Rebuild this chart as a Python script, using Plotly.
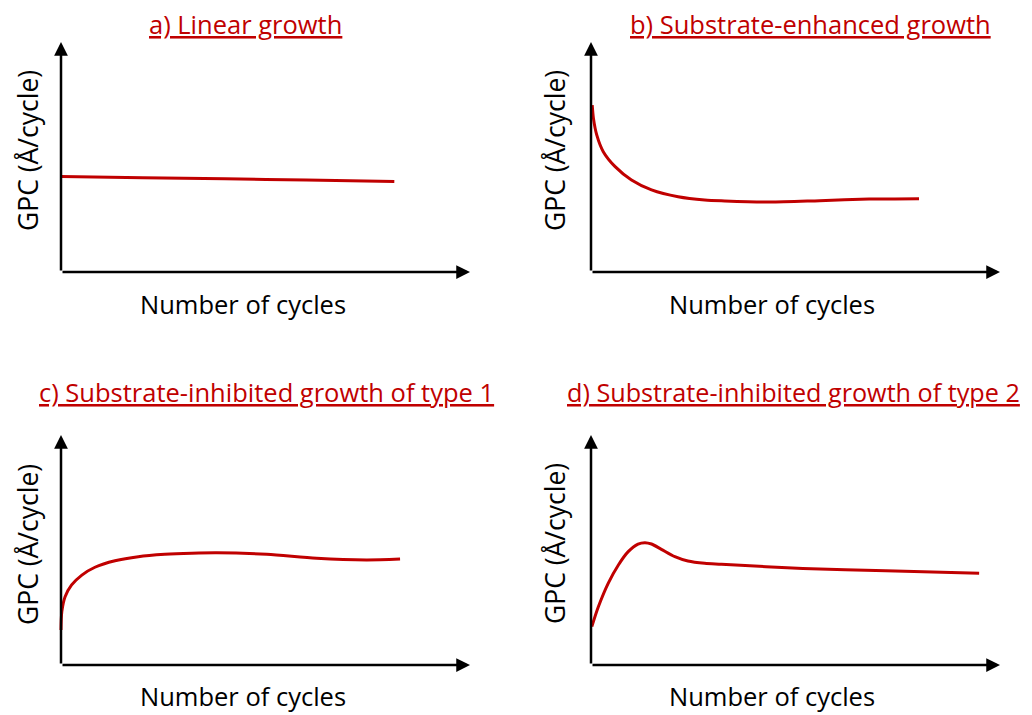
import plotly.graph_objects as go

# page body has an 8px margin, so the figure coordinates are shifted by it
OFF = 8
W, H = 1032 - OFF, 715 - OFF
RED = "#C00000"
FONT = "Open Sans"

titles = ["a) Linear growth", "b) Substrate-enhanced growth",
          "c) Substrate-inhibited growth of type 1", "d) Substrate-inhibited growth of type 2"]
x_label = "Number of cycles"
y_label = "GPC (Å/cycle)"

# curve values in axis units (0-100 of axis length)
a_x = [0, 20, 40, 60, 81.5]
a_y = [41.5, 41.0, 40.5, 40.0, 39.3]

b_x = [0.3, 0.6, 1.4, 3.0, 5.9, 9.9, 14.8, 21.3, 27.8, 32.7, 43.7, 55.9, 68.0, 80.2]
b_y = [72.6, 66.8, 59.6, 52.3, 45.8, 40.0, 35.7, 32.7, 31.3, 30.9, 30.4, 31.0, 31.7, 31.9]

c_x = [0, 0.2, 1.0, 2.6, 5.1, 8.3, 13.2, 18.9, 25.4, 32.0, 38.1, 50.3, 62.5, 74.7, 82.9]
c_y = [15.2, 23.2, 29.7, 34.8, 39.1, 42.5, 45.3, 47.1, 48.1, 48.6, 48.8, 48.1, 46.4, 45.7, 46.1]

d_x = [0.2, 1.8, 4.2, 6.7, 9.1, 11.5, 13.2, 14.8, 17.2, 20.5, 23.7, 27.8, 31.9, 51.8, 72.1, 94.9]
d_y = [16.7, 25.3, 35.5, 43.5, 49.3, 52.6, 53.2, 52.6, 50.3, 47.1, 45.2, 44.2, 43.8, 42.0, 41.0, 39.9]

curves = [(a_x, a_y), (b_x, b_y), (c_x, c_y), (d_x, d_y)]

# panel geometry in reference pixels: origin x, right arrow tip x, origin y, top arrow tip y
panels = [
    dict(x0=61, x1=470, y0=272, y1=42, title=(245, 24), xl=(243, 304), yl=(28, 151), tsize=25.5),
    dict(x0=591, x1=1000, y0=272, y1=42, title=(810, 24), xl=(772, 304), yl=(555, 151), tsize=25.5),
    dict(x0=61, x1=470, y0=665, y1=435, title=(266, 392), xl=(243, 696), yl=(28, 545), tsize=25.5),
    dict(x0=591, x1=1000, y0=665, y1=435, title=(793, 392), xl=(772, 696), yl=(555, 544), tsize=25.2),
]

PAD = 3.0
fig = go.Figure()
annotations = []
layout = dict(width=W, height=H, margin=dict(l=0, r=0, t=0, b=0),
              plot_bgcolor="white", paper_bgcolor="white", showlegend=False)


def px2x(p):
    return (p - OFF) / W


def px2y(p):
    return 1 - (p - OFF) / H


for i, (p, (cx, cy), title) in enumerate(zip(panels, curves, titles)):
    n = "" if i == 0 else str(i + 1)
    xlen = p["x1"] - p["x0"]
    ylen = p["y0"] - p["y1"]
    xdom = [px2x(p["x0"] - PAD / 100 * xlen), px2x(p["x1"] + 2)]
    ydom = [px2y(p["y0"] + PAD / 100 * ylen), px2y(p["y1"] - 2)]
    xr = [-PAD, 100 + 2 / xlen * 100]
    yr = [-PAD, 100 + 2 / ylen * 100]
    layout["xaxis" + n] = dict(domain=xdom, range=xr, visible=False, anchor="y" + n)
    layout["yaxis" + n] = dict(domain=ydom, range=yr, visible=False, anchor="x" + n)
    fig.add_trace(go.Scatter(x=cx, y=cy, mode="lines", xaxis="x" + n, yaxis="y" + n,
                             line=dict(color=RED, width=3, shape="spline", smoothing=0.8),
                             hoverinfo="skip"))
    # axes with arrows
    for (tx, ty) in [(100, 0), (0, 100)]:
        annotations.append(dict(x=tx, y=ty, ax=0, ay=0, xref="x" + n, yref="y" + n,
                                axref="x" + n, ayref="y" + n, text="", showarrow=True,
                                arrowhead=2, arrowsize=1.1, arrowwidth=2.5, arrowcolor="black"))
    annotations.append(dict(x=px2x(p["title"][0]), y=px2y(p["title"][1]), xref="paper", yref="paper",
                            text="<u>" + title + "</u>", showarrow=False,
                            font=dict(family=FONT, size=p["tsize"], color=RED),
                            xanchor="center", yanchor="middle"))
    annotations.append(dict(x=px2x(p["xl"][0]), y=px2y(p["xl"][1]), xref="paper", yref="paper",
                            text=x_label, showarrow=False,
                            font=dict(family=FONT, size=25.5, color="black"),
                            xanchor="center", yanchor="middle"))
    annotations.append(dict(x=px2x(p["yl"][0]), y=px2y(p["yl"][1]), xref="paper", yref="paper",
                            text=y_label, showarrow=False, textangle=-90,
                            font=dict(family=FONT, size=26.5, color="black"),
                            xanchor="center", yanchor="middle"))

layout["annotations"] = annotations
fig.update_layout(**layout)
fig.write_html("out.html")
